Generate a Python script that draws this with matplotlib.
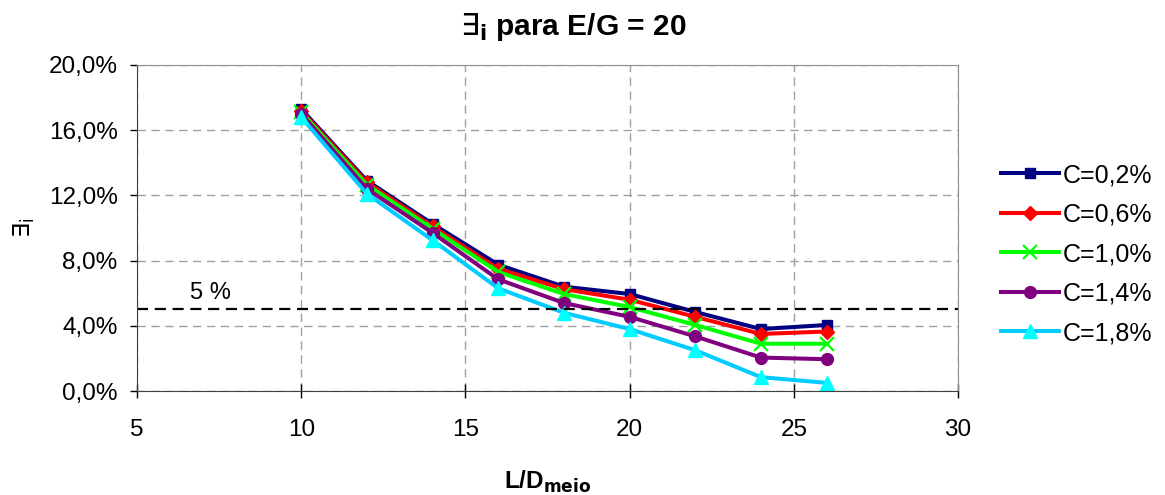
import matplotlib
matplotlib.use("Agg")
import matplotlib.pyplot as plt
from matplotlib.ticker import FuncFormatter

plt.rcParams['font.family'] = ['Liberation Sans', 'DejaVu Sans']
plt.rcParams['mathtext.fontset'] = 'dejavusans'

# L/D_meio ratios
ld = [10, 12, 14, 16, 18, 20, 22, 24, 26]

# ∃i (%) for each fibre content C
c02 = [17.3, 12.9, 10.25, 7.75, 6.4, 5.95, 4.85, 3.8, 4.05]
c06 = [17.2, 12.8, 10.1, 7.5, 6.25, 5.6, 4.55, 3.5, 3.65]
c10 = [17.1, 12.65, 9.95, 7.3, 5.95, 5.15, 4.05, 2.9, 2.9]
c14 = [17.0, 12.4, 9.7, 6.85, 5.4, 4.55, 3.35, 2.05, 1.95]
c18 = [16.8, 12.1, 9.25, 6.3, 4.8, 3.8, 2.5, 0.85, 0.5]

labels = ['C=0,2%', 'C=0,6%', 'C=1,0%', 'C=1,4%', 'C=1,8%']
limit = 5.0

fig = plt.figure(figsize=(11.65, 4.95), dpi=100)
ax = fig.add_axes([0.1176, 0.2101, 0.7047, 0.6586])

styles = [
    dict(color='#000080', marker='s', mfc='#000080', mec='#000080', ms=7.5),
    dict(color='#FF0000', marker='D', mfc='#FF0000', mec='#FF0000', ms=7.5),
    dict(color='#00FF00', marker='x', mfc='#00FF00', mec='#00FF00', ms=10, mew=1.6),
    dict(color='#800080', marker='o', mfc='#800080', mec='#800080', ms=8.5),
    dict(color='#00CCFF', marker='^', mfc='#00FFFF', mec='#00FFFF', ms=10),
]

for ys, lab, st in zip([c02, c06, c10, c14, c18], labels, styles):
    ax.plot(ld, ys, lw=2.9, label=lab, **st)

ax.axhline(limit, color='black', lw=1.6, ls=(0, (5, 3)))
ax.text(6.6, limit + 0.35, '5 %', fontsize=17, ha='left', va='bottom')

ax.set_xlim(5, 30)
ax.set_ylim(0, 20)
ax.set_xticks(range(5, 31, 5))
ax.set_yticks(range(0, 21, 4))
ax.yaxis.set_major_formatter(FuncFormatter(lambda v, p: f'{v:.1f}%'.replace('.', ',')))
ax.tick_params(labelsize=17.5, length=5, width=1, colors='black')
ax.tick_params(axis='y', direction='out', pad=9)
ax.tick_params(axis='x', direction='inout', length=10, pad=15)
ax.grid(True, color='#A0A0A0', ls=(0, (6, 4)), lw=1)
for side in ('top', 'right'):
    ax.spines[side].set_color('#909090')
for side in ('left', 'bottom'):
    ax.spines[side].set_color('#404040')

ax.set_xlabel('L/D$_{\\mathbf{meio}}$', fontsize=17.5, fontweight='bold', labelpad=20)
ax.set_ylabel('$\\exists_\\mathrm{i}$', fontsize=17, labelpad=8)
fig.suptitle('$\\exists_\\mathbf{i}$ para E/G = 20', fontsize=21.5, fontweight='bold', x=0.492, y=0.978)

ax.legend(loc='center left', bbox_to_anchor=(1.025, 0.42), frameon=False,
          fontsize=18, handlelength=2.3, handletextpad=0.15, labelspacing=0.62)

fig.savefig('out.png', dpi=100)
